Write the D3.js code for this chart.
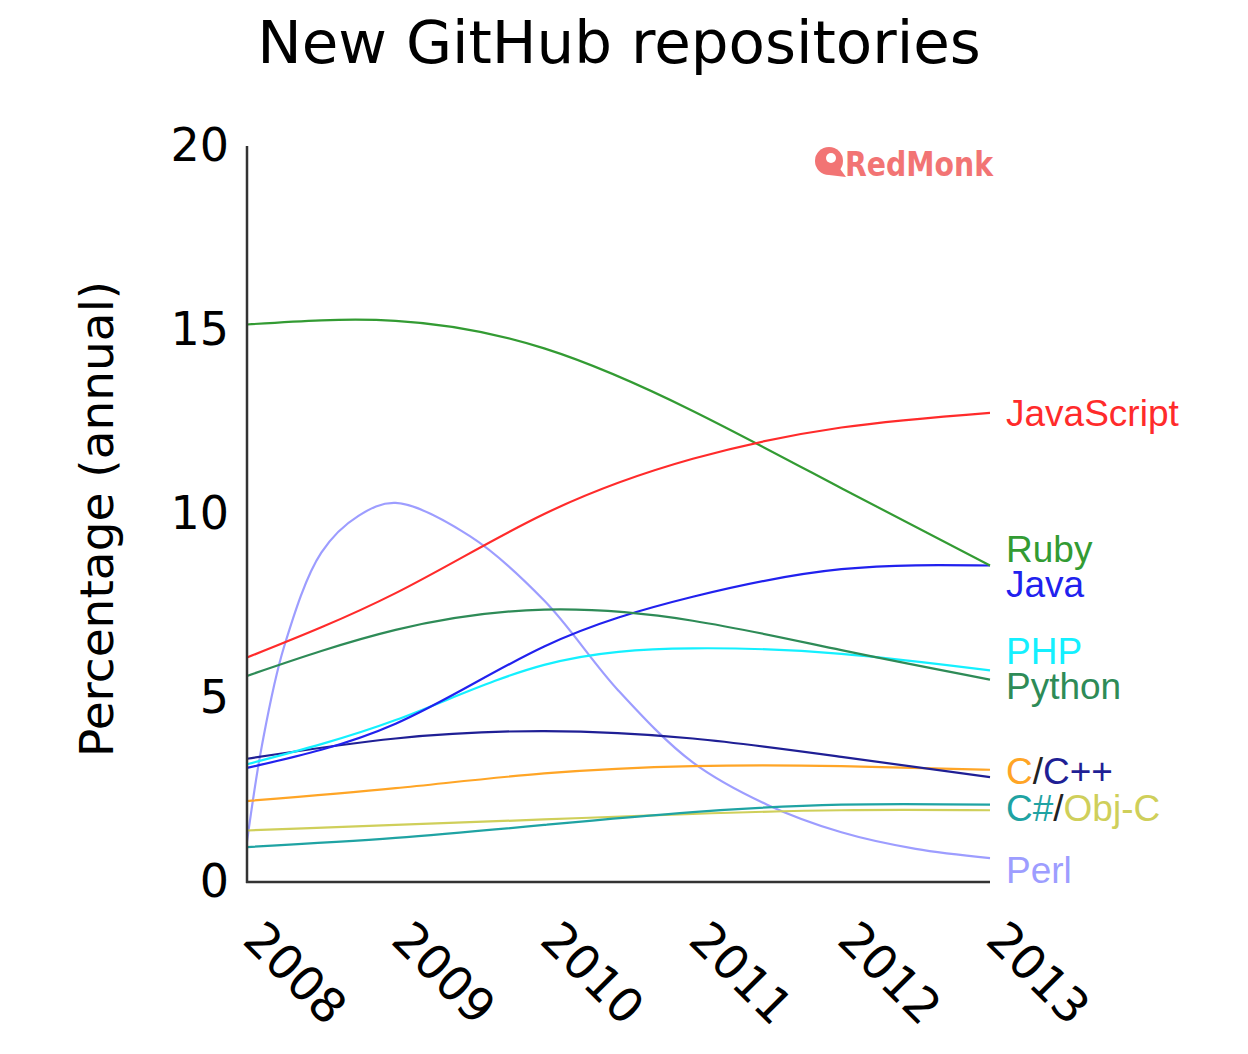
<!DOCTYPE html>
<html>
<head>
<meta charset="utf-8">
<script src="https://cdn.jsdelivr.net/npm/d3@7"></script>
<style>
  body { margin: 0; background: #fff; }
  text { font-family: "DejaVu Sans", sans-serif; }
  .lbl { font-family: "Liberation Sans", Arial, sans-serif; }
</style>
</head>
<body>
<div id="chart"></div>
<script>
// values (percent of new repos, per year)
var years = [2008, 2009, 2010, 2011, 2012, 2013];
var yTicks = [0, 5, 10, 15, 20];

var javascript = [6.1, 7.85, 10.0, 11.5, 12.35, 12.75];
var ruby       = [15.15, 15.25, 14.5, 12.8, 10.7, 8.6];
var python     = [5.6, 6.85, 7.4, 7.1, 6.3, 5.5];
var java       = [3.1, 4.3, 6.4, 7.75, 8.5, 8.6];
var php        = [3.2, 4.4, 5.9, 6.35, 6.2, 5.75];
var cpp        = [3.35, 3.9, 4.1, 3.9, 3.4, 2.85];
var c          = [2.2, 2.55, 2.95, 3.15, 3.15, 3.05];
var csharp     = [0.95, 1.2, 1.55, 1.9, 2.1, 2.1];
var objc       = [1.4, 1.55, 1.7, 1.85, 1.95, 1.95];

// perl moves fast, so it is read more often
var perlYears  = [2008, 2008.1, 2008.25, 2008.5, 2008.75, 2009, 2009.5, 2010, 2010.5, 2011, 2011.5, 2012, 2012.5, 2013];
var perl       = [1.1, 3.7, 6.4, 8.95, 9.95, 10.3, 9.4, 7.65, 5.2, 3.25, 2.1, 1.35, 0.9, 0.65];

var series = [
  {name: "Perl", x: perlYears, values: perl, color: "#9d9dff", curve: d3.curveCatmullRom.alpha(0.5)},
  {name: "Obj-C", values: objc, color: "#cfcf5a"},
  {name: "C#", values: csharp, color: "#1fa3a3"},
  {name: "C", values: c, color: "#ffa526"},
  {name: "C++", values: cpp, color: "#1f1f95"},
  {name: "PHP", values: php, color: "#14f0ff"},
  {name: "Java", values: java, color: "#2121ee"},
  {name: "Python", values: python, color: "#2e8b57"},
  {name: "Ruby", values: ruby, color: "#339b33"},
  {name: "JavaScript", values: javascript, color: "#ff2b2b"}
];

// right-hand labels: parts share one line where lines end close together
var labels = [
  {parts: ["JavaScript"], dy: 0},
  {parts: ["Ruby"], dy: -17},
  {parts: ["Java"], dy: 18},
  {parts: ["PHP"], dy: -20},
  {parts: ["Python"], dy: 6},
  {parts: ["C", "/", "C++"], dy: -3},
  {parts: ["C#", "/", "Obj-C"], dy: 0},
  {parts: ["Perl"], dy: 12}
];

var W = 1248, H = 1054;
var x0 = 247, x1 = 990, yTop = 146, yBot = 882;

var svg = d3.select("#chart").append("svg")
  .attr("width", W)
  .attr("height", H);

var x = d3.scaleLinear().domain([2008, 2013]).range([x0, x1]);
var y = d3.scaleLinear().domain([0, 20]).range([yBot, yTop]);

// title
svg.append("text")
  .attr("x", 619)
  .attr("y", 63)
  .attr("text-anchor", "middle")
  .attr("font-size", 59.5)
  .attr("fill", "#000")
  .text("New GitHub repositories");

// y axis label
svg.append("text")
  .attr("transform", "translate(113,519) rotate(-90)")
  .attr("text-anchor", "middle")
  .attr("font-size", 47)
  .attr("fill", "#000")
  .text("Percentage (annual)");

// y axis
var yaxis = svg.append("g")
  .attr("transform", "translate(" + x0 + ",0)")
  .call(d3.axisLeft(y).tickValues(yTicks).tickSize(0).tickPadding(18));
yaxis.select(".domain").remove();
yaxis.selectAll("text")
  .attr("font-size", 46)
  .attr("font-family", "DejaVu Sans")
  .attr("fill", "#000");

// x axis (labels rotated 45deg)
var xaxis = svg.append("g").attr("class", "xaxis");
xaxis.selectAll("text")
  .data(years)
  .enter()
  .append("text")
  .attr("transform", function(d) { return "translate(" + (x(d) - 6) + ",942) rotate(45)"; })
  .attr("font-size", 47.5)
  .attr("fill", "#000")
  .text(function(d) { return d; });

// lines
svg.append("g").selectAll("path")
  .data(series)
  .enter()
  .append("path")
  .attr("d", function(d) {
    var xs = d.x || years;
    var line = d3.line()
      .x(function(v, i) { return x(xs[i]); })
      .y(function(v) { return y(v); })
      .curve(d.curve || d3.curveNatural);
    return line(d.values);
  })
  .attr("fill", "none")
  .attr("stroke", function(d) { return d.color; })
  .attr("stroke-width", 2.2);

// axis lines on top
svg.append("line")
  .attr("x1", x0).attr("x2", x0)
  .attr("y1", yTop).attr("y2", yBot + 1)
  .attr("stroke", "#333").attr("stroke-width", 2.5);
svg.append("line")
  .attr("x1", x0 - 1).attr("x2", x1)
  .attr("y1", yBot).attr("y2", yBot)
  .attr("stroke", "#333").attr("stroke-width", 2.5);

// end labels
var byName = {};
series.forEach(function(s) { byName[s.name] = s; });

labels.forEach(function(l) {
  var named = l.parts.filter(function(p) { return byName[p]; });
  var yEnd = d3.mean(named, function(p) { var v = byName[p].values; return y(v[v.length - 1]); });
  var t = svg.append("text")
    .attr("class", "lbl")
    .attr("x", x1 + 16)
    .attr("y", yEnd + l.dy)
    .attr("dy", "0.36em")
    .attr("font-size", 37);
  l.parts.forEach(function(p) {
    t.append("tspan")
      .attr("fill", byName[p] ? byName[p].color : "#222")
      .text(p);
  });
});

// RedMonk logo
var logo = svg.append("g").attr("fill", "#f27474");
logo.append("circle").attr("cx", 829).attr("cy", 161).attr("r", 14);
logo.append("path").attr("d", "M829,175 L846,177 L838,166 Z");
logo.append("circle").attr("cx", 831).attr("cy", 158).attr("r", 5).attr("fill", "#fff");
logo.append("text")
  .attr("x", 845)
  .attr("y", 176)
  .attr("font-family", "DejaVu Sans Condensed, DejaVu Sans")
  .attr("font-weight", "bold")
  .attr("font-size", 34)
  .attr("textLength", 148)
  .attr("lengthAdjust", "spacingAndGlyphs")
  .text("RedMonk");
</script>
</body>
</html>
